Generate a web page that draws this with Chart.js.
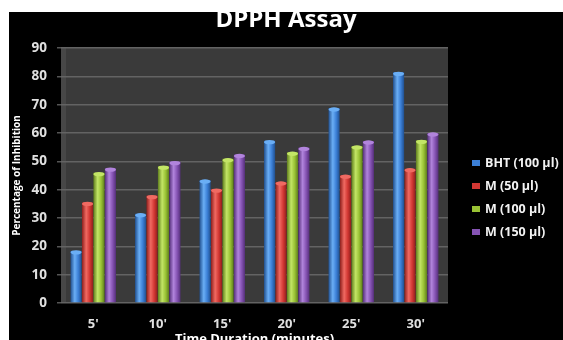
<!DOCTYPE html>
<html>
<head>
<meta charset="utf-8">
<script src="https://cdn.jsdelivr.net/npm/chart.js@4/dist/chart.umd.min.js"></script>
<style>
  html, body { margin: 0; padding: 0; background: #fff; overflow: hidden; width: 563px; height: 340px; }
  #frame { position: absolute; left: 9px; top: 12px; width: 554px; height: 328px; overflow: hidden; background: #000; }
  #frame canvas { position: absolute; left: 0; top: -6px; }
</style>
</head>
<body>
<div id="frame"><canvas id="c" width="554" height="352" style="width:554px;height:352px"></canvas></div>
<script>
// Time points (minutes) and % inhibition for each sample
const timeLabels = ["5'", "10'", "15'", "20'", "25'", "30'"];
const bht100 = [18.4, 31.5, 43.4, 57.3, 68.8, 81.4];
const m50    = [35.5, 37.9, 40.2, 42.7, 45.1, 47.4];
const m100   = [46.0, 48.3, 50.9, 53.2, 55.4, 57.4];
const m150   = [47.6, 49.9, 52.4, 54.9, 57.2, 60.0];
const seriesNames = ['BHT (100 µl)', 'M (50 µl)', 'M (100 µl)', 'M (150 µl)'];
const yMin = 0, yMax = 90, yStep = 10;

const FONT = '"Open Sans", "DejaVu Sans", sans-serif';

// base, edge shade, highlight
const palette = [
  ['#3b7fd6', '#21508f', '#6aaef5'],
  ['#d23733', '#8e1f1c', '#f06a62'],
  ['#99c234', '#5f7e1c', '#c3e566'],
  ['#8553b3', '#552f7a', '#b184dc']
];

// Horizontal shading so each bar reads as a cylinder
function cylinder(p) {
  return (ctx) => {
    const meta = ctx.chart.getDatasetMeta(ctx.datasetIndex);
    const el = meta && meta.data[ctx.dataIndex];
    if (!el || !isFinite(el.x) || !el.width) return p[0];
    const g = ctx.chart.ctx.createLinearGradient(el.x - el.width / 2, 0, el.x + el.width / 2, 0);
    g.addColorStop(0, p[1]);
    g.addColorStop(0.38, p[2]);
    g.addColorStop(0.7, p[0]);
    g.addColorStop(1, p[1]);
    return g;
  };
}

const seriesValues = [bht100, m50, m100, m150];

const plotBackground = {
  id: 'plotBackground',
  beforeDraw(chart) {
    const { ctx, chartArea: a } = chart;
    ctx.save();
    ctx.fillStyle = '#3a3a3a';
    ctx.fillRect(a.left, a.top, a.right - a.left, a.bottom - a.top);
    ctx.fillStyle = '#474747';
    ctx.fillRect(a.left, a.top, 5, a.bottom - a.top);
    ctx.restore();
  }
};

const barCaps = {
  id: 'barCaps',
  afterDatasetsDraw(chart) {
    const { ctx } = chart;
    ctx.save();
    chart.data.datasets.forEach((ds, i) => {
      const meta = chart.getDatasetMeta(i);
      meta.data.forEach((el) => {
        ctx.beginPath();
        ctx.ellipse(el.x, el.y + 1.5, el.width / 2, 2.2, 0, 0, Math.PI * 2);
        ctx.fillStyle = palette[i][2];
        ctx.fill();
      });
    });
    ctx.restore();
  }
};

const sideLegend = {
  id: 'sideLegend',
  afterDraw(chart) {
    const { ctx } = chart;
    ctx.save();
    ctx.font = 'bold 12.5px ' + FONT;
    ctx.textBaseline = 'middle';
    ctx.textAlign = 'left';
    chart.data.datasets.forEach((ds, i) => {
      const y = 157 + i * 23;
      ctx.fillStyle = palette[i][0];
      ctx.fillRect(463, y - 3, 8, 6);
      ctx.fillStyle = '#f2f2f2';
      ctx.fillText(ds.label, 476, y);
    });
    ctx.restore();
  }
};

const chart = new Chart(document.getElementById('c'), {
  type: 'bar',
  data: {
    labels: timeLabels,
    datasets: seriesValues.map((vals, i) => ({
      label: seriesNames[i],
      data: vals,
      backgroundColor: cylinder(palette[i]),
      borderWidth: 0,
      categoryPercentage: 0.71,
      barPercentage: 0.97
    }))
  },
  options: {
    responsive: false,
    animation: false,
    layout: { padding: 0 },
    plugins: {
      legend: { display: false },
      tooltip: { enabled: false },
      title: {
        display: true,
        text: 'DPPH Assay',
        color: '#ffffff',
        font: { family: FONT, size: 24, weight: 'bold', lineHeight: 1 },
        padding: { top: 2, bottom: 16 }
      }
    },
    scales: {
      x: {
        grid: { display: false, drawTicks: false },
        border: { display: false },
        ticks: { color: '#e0e0e0', font: { family: FONT, size: 13, weight: 'bold' }, padding: 13 },
        title: {
          display: true,
          text: 'Time Duration (minutes)',
          color: '#ffffff',
          font: { family: FONT, size: 13, weight: 'bold' },
          padding: { top: 0, bottom: 11 }
        },
        afterFit(scale) { scale.height = 55; }
      },
      y: {
        min: yMin,
        max: yMax,
        grid: { color: '#636363', lineWidth: 1.5, tickLength: 4, tickColor: '#555' },
        border: { display: false },
        ticks: { stepSize: yStep, color: '#e0e0e0', font: { family: FONT, size: 13.5, weight: 'bold' }, padding: 10 },
        title: {
          display: true,
          text: 'Percentage of Inhibition',
          color: '#ffffff',
          font: { family: FONT, size: 10, weight: 'bold' },
          padding: { top: 2, bottom: 0 }
        },
        afterFit(scale) { scale.width = 52; }
      },
      // empty right-hand gutter that holds the series key
      gutter: {
        type: 'linear',
        position: 'right',
        grid: { display: false, drawTicks: false },
        border: { display: false },
        ticks: { display: false },
        afterFit(scale) { scale.width = 115; }
      }
    }
  },
  plugins: [plotBackground, barCaps, sideLegend]
});
// second pass so the shading picks up the laid-out bar positions
chart.update('none');
</script>
</body>
</html>
